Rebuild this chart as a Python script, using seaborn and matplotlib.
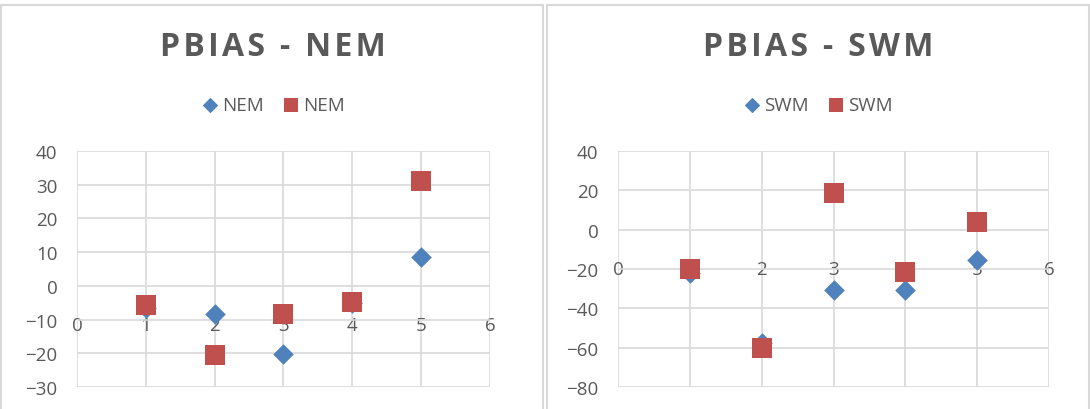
import matplotlib
matplotlib.use("Agg")
import matplotlib.pyplot as plt
from matplotlib.patches import Rectangle
import seaborn as sns

# data
x = [1, 2, 3, 4, 5]
nem_blue = [-6.5, -8.4, -20.2, -5.0, 8.6]
nem_red = [-5.7, -20.6, -8.3, -4.9, 31.0]
swm_blue = [-22.0, -57.5, -30.8, -30.8, -15.2]
swm_red = [-20.0, -60.0, 18.6, -21.7, 3.7]

blue = "#4F81BD"
red = "#C0504D"
grey_txt = "#595959"

sns.set_style("white")
plt.rcParams["font.family"] = ["Open Sans", "DejaVu Sans"]

fig = plt.figure(figsize=(10.9, 4.1), dpi=100)

# chart frames
for x0, w in [(0.001, 0.497), (0.502, 0.497)]:
    fig.patches.append(Rectangle((x0, -0.01), w, 0.995, transform=fig.transFigure,
                                 fill=False, edgecolor="#d9d9d9", linewidth=1.5))

panels = [
    ("PBIAS - NEM", "NEM", nem_blue, nem_red, (-30, 40), range(-30, 41, 10), 77, 490, 273),
    ("PBIAS - SWM", "SWM", swm_blue, swm_red, (-80, 40), range(-80, 41, 20), 618, 1049, 818),
]

for title, name, yb, yr, ylim, yt, l, r, cx in panels:
    ax = fig.add_axes([l / 1090, 1 - 388 / 410, (r - l) / 1090, (388 - 152) / 410])
    sns.scatterplot(x=x, y=yb, marker="D", s=110, color=blue, edgecolor=blue,
                    linewidth=0, ax=ax, label=name, zorder=3)
    sns.scatterplot(x=x, y=yr, marker="s", s=190, color=red, edgecolor=red,
                    linewidth=0, ax=ax, label=name, zorder=4)
    ax.set_xlim(0, 6)
    ax.set_ylim(*ylim)
    ax.set_xticks(range(0, 7))
    ax.set_yticks(list(yt))
    ax.grid(True, color="#d9d9d9", linewidth=1.2)
    ax.set_axisbelow(True)
    for s in ["top", "right", "left"]:
        ax.spines[s].set_visible(False)
    ax.spines["bottom"].set_position(("data", 0))
    ax.spines["bottom"].set_visible(False)
    ax.tick_params(axis="x", length=0, pad=22, labelsize=13.5, labelcolor=grey_txt)
    ax.tick_params(axis="y", length=0, pad=14, labelsize=13.5, labelcolor=grey_txt)
    ax.legend(loc="center", bbox_to_anchor=(cx / 1090, 1 - 106 / 410),
              bbox_transform=fig.transFigure, ncol=2, frameon=False,
              fontsize=13.5, labelcolor=grey_txt, handletextpad=0.2,
              handlelength=0.9, columnspacing=1.0, markerscale=0.75)
    spaced = "\u200a".join(title)
    fig.text(cx / 1090, 1 - 48 / 410, spaced, ha="center", va="center",
             fontsize=23, fontweight="bold", color=grey_txt)

fig.savefig("out.png", dpi=100, facecolor="white")
